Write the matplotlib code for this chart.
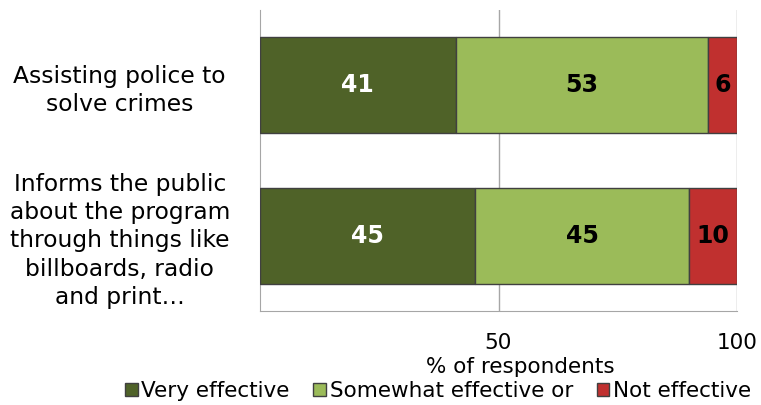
import matplotlib
matplotlib.use("Agg")
from matplotlib import pyplot as plt

categories = ["Assisting police to\nsolve crimes",
              "Informs the public\nabout the program\nthrough things like\nbillboards, radio\nand print…"]
series_names = ["Very effective", "Somewhat effective or", "Not effective"]
very_effective = [41, 45]
somewhat_effective = [53, 45]
not_effective = [6, 10]
xticks = [50, 100]

colors = ["#4F6228", "#9BBB59", "#C0302F"]
text_colors = ["white", "black", "black"]

plt.rcParams["font.family"] = "DejaVu Sans"

fig = plt.figure(figsize=(7.61, 4.05), dpi=100)
ax = fig.add_axes([260 / 761, 1 - 311 / 405, 477 / 761, 301 / 405])

ypos = [0, 1]
left = [0, 0]
for name, vals, col, tcol in zip(series_names,
                                  [very_effective, somewhat_effective, not_effective],
                                  colors, text_colors):
    bars = ax.barh(ypos, vals, left=left, height=0.64, color=col,
                   edgecolor="#404040", linewidth=1, label=name, zorder=3)
    for b, v in zip(bars, vals):
        ax.text(b.get_x() + b.get_width() / 2, b.get_y() + b.get_height() / 2,
                str(v), ha="center", va="center", color=tcol,
                fontsize=17, fontweight="bold", zorder=4)
    left = [l + v for l, v in zip(left, vals)]

ax.set_xlim(0, 100)
ax.set_ylim(1.5, -0.5)
ax.set_xticks(xticks)
ax.set_xticklabels([str(t) for t in xticks], fontsize=15.5)
ax.tick_params(axis="x", length=0, pad=16)
ax.set_yticks(ypos)
ax.set_yticklabels(categories, fontsize=16.8, ha="center", multialignment="center",
                   linespacing=1.3)
ax.tick_params(axis="y", length=0, pad=101)
ax.grid(axis="x", color="#A6A6A6", linewidth=1, zorder=0)

for s in ["top", "right"]:
    ax.spines[s].set_visible(False)
for s in ["left", "bottom"]:
    ax.spines[s].set_color("#A6A6A6")

ax.set_xlabel("% of respondents", fontsize=15.5)
ax.xaxis.set_label_coords((520 - 260) / 477, -0.185)
ax.xaxis.label.set_va("center")

fig.legend(loc="center", bbox_to_anchor=(438 / 761, 1 - 391 / 405), ncol=3,
           frameon=False, fontsize=15.5, handlelength=0.6, handleheight=0.6,
           handletextpad=0.15, columnspacing=1.1, borderaxespad=0)

fig.savefig("out.png", dpi=100)
